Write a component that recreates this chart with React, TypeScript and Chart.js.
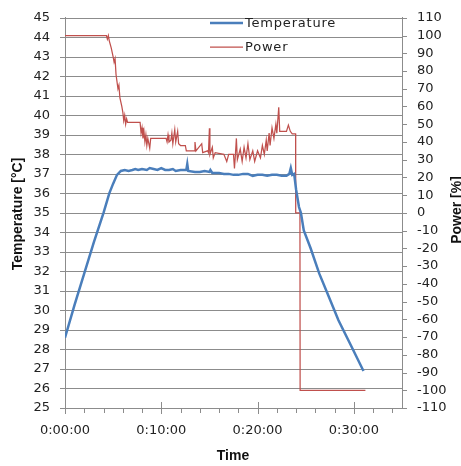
import React, { useEffect, useRef } from "react";
import { Chart, registerables } from "chart.js";

Chart.register(...registerables);

// Time in minutes
const tempTime = [
  0, 1, 2, 3, 4, 4.6, 5.0, 5.4, 5.8, 6.2, 6.6, 7.0, 7.3, 7.6, 8.0, 8.5, 8.8, 9.2, 9.6, 10.0,
  10.4, 10.8, 11.2, 11.5, 12.0, 12.6, 12.7, 12.8, 13.5, 14.0, 14.5, 15.0, 15.1, 15.3, 16.0,
  16.5, 17.0, 17.5, 18.0, 18.5, 19.0, 19.5, 20.0, 20.5, 21.0, 21.5, 22.0, 22.5, 23.0, 23.3,
  23.45, 23.6, 23.8, 24.0, 24.3, 24.5, 24.8, 25.5, 26.4, 27.4, 28.4, 29.7, 31.0,
];
const tempValue = [
  28.6, 30.3, 31.9, 33.5, 35.0, 36.0, 36.5, 36.95, 37.15, 37.2, 37.15, 37.2, 37.25, 37.2, 37.25, 37.2, 37.3, 37.25, 37.2, 37.3,
  37.2, 37.2, 37.25, 37.15, 37.2, 37.2, 37.5, 37.15, 37.1, 37.1, 37.15, 37.1, 37.2, 37.05, 37.05,
  37.0, 37.0, 36.95, 36.95, 37.0, 37.0, 36.9, 36.95, 36.95, 36.9, 36.95, 36.95, 36.9, 36.9, 37.0,
  37.3, 36.95, 37.0, 36.2, 35.3, 35.0, 34.1, 33.2, 31.9, 30.7, 29.5, 28.2, 26.9,
];

const powerTime = [
  0, 4.3, 4.4, 4.5, 4.6, 4.8, 5.0, 5.1, 5.2, 5.3, 5.5, 5.6, 5.7, 5.9, 6.0, 6.1, 6.2, 6.3, 6.4, 6.5,
  7.8, 7.9, 8.0, 8.1, 8.2, 8.3, 8.4, 8.5, 8.6, 8.8, 8.9, 9.0, 10.5, 10.6, 10.7, 10.8, 11.0, 11.1,
  11.2, 11.4, 11.5, 11.7, 11.8, 12.0, 12.5, 12.6, 13.4, 13.5, 13.6, 14.2, 14.3, 14.8, 14.9, 15.0,
  15.05, 15.3, 15.4, 15.6, 16.5, 16.8, 17.0, 17.5, 17.6, 17.7, 17.8, 17.9, 18.2, 18.4, 18.6, 18.8,
  19.0, 19.2, 19.5, 19.7, 20.0, 20.3, 20.5, 20.7, 20.9, 21.0, 21.2, 21.3, 21.5, 21.7, 21.9, 22.0,
  22.2, 22.3, 22.5, 23.0, 23.2, 23.4, 23.6, 23.95, 23.96, 24.4, 24.42, 31.2,
];
const powerValue = [
  100, 100, 98, 100, 97, 93, 88, 85, 87, 78, 70, 72, 65, 60, 57, 52, 55, 50, 53, 51,
  51, 45, 48, 42, 46, 40, 44, 38, 42, 36.5, 42, 42, 42, 40, 44, 40, 41, 45,
  39, 47, 40, 46, 39, 38, 38, 35, 35, 40, 35, 39, 34, 35, 34, 47.7,
  33, 37, 31, 34, 33, 29, 33, 33, 25, 33, 42, 30, 36, 29, 37, 31,
  39, 30, 35, 29, 35, 31, 38, 33, 41, 35, 45, 38, 48, 42, 50, 45,
  59.5, 46, 46, 46, 49.5, 46, 44.5, 44.5, 0, 0, -100, -100,
];

// Tick values
const tempTicks = [25, 26, 27, 28, 29, 30, 31, 32, 33, 34, 35, 36, 37, 38, 39, 40, 41, 42, 43, 44, 45];
const powerTicks = [-110, -100, -90, -80, -70, -60, -50, -40, -30, -20, -10, 0, 10, 20, 30, 40, 50, 60, 70, 80, 90, 100, 110];
const timeMinorTicks = [2, 4, 6, 8, 12, 14, 16, 18, 22, 24, 26, 28, 32, 34];
const timeMajorTicks = [0, 10, 20, 30];
const timeTickLabels = ["0:00:00", "0:10:00", "0:20:00", "0:30:00"];

const TICK_FONT = { family: "'DejaVu Sans', Verdana, sans-serif", size: 13 };
const TEXT_COLOR = "#222";
const GRID_COLOR = "#8c8c8c";
const HIDDEN = "rgba(0,0,0,0)";

export default function App() {
  const ref = useRef<HTMLCanvasElement | null>(null);

  useEffect(() => {
    if (!ref.current) return;
    const gridPlugin = {
      id: "gridLines",
      beforeDatasetsDraw(chart: any) {
        const ctx = chart.ctx;
        const area = chart.chartArea;
        const xs = chart.scales.x;
        const yl = chart.scales.y;
        const yr = chart.scales.y1;
        ctx.save();
        ctx.setLineDash([]);
        ctx.strokeStyle = GRID_COLOR;
        ctx.lineWidth = 1;
        const L = area.left;
        const R = area.right;
        const B = area.bottom;
        tempTicks.forEach((v) => {
          const py = Math.round(yl.getPixelForValue(v)) + 0.5;
          ctx.beginPath();
          ctx.moveTo(L - 5, py);
          ctx.lineTo(R, py);
          ctx.stroke();
        });
        powerTicks.forEach((v) => {
          const py = Math.round(yr.getPixelForValue(v)) + 0.5;
          ctx.beginPath();
          ctx.moveTo(R, py);
          ctx.lineTo(R + 5, py);
          ctx.stroke();
        });
        timeMinorTicks.forEach((v) => {
          const px = Math.round(xs.getPixelForValue(v)) + 0.5;
          ctx.beginPath();
          ctx.moveTo(px, B);
          ctx.lineTo(px, B + 5);
          ctx.stroke();
        });
        timeMajorTicks.forEach((v) => {
          const px = Math.round(xs.getPixelForValue(v)) + 0.5;
          ctx.beginPath();
          ctx.moveTo(px, B - 6);
          ctx.lineTo(px, B + 6);
          ctx.stroke();
        });
        ctx.restore();
      },
      afterDraw(chart: any) {
        const ctx = chart.ctx;
        ctx.save();
        // legend
        ctx.lineWidth = 2.5;
        ctx.strokeStyle = "#4a7ebb";
        ctx.beginPath();
        ctx.moveTo(210, 23);
        ctx.lineTo(243, 23);
        ctx.stroke();
        ctx.lineWidth = 1.25;
        ctx.strokeStyle = "#c0504d";
        ctx.beginPath();
        ctx.moveTo(210, 47);
        ctx.lineTo(243, 47);
        ctx.stroke();
        ctx.fillStyle = TEXT_COLOR;
        ctx.font = "13px 'DejaVu Sans', Verdana, sans-serif";
        (ctx as any).letterSpacing = "0.8px";
        ctx.textAlign = "left";
        ctx.textBaseline = "middle";
        ctx.fillText("Temperature", 245, 24);
        ctx.fillText("Power", 245, 48);
        (ctx as any).letterSpacing = "0px";
        // axis titles
        ctx.font = "bold 14px 'Liberation Sans', Arial, sans-serif";
        ctx.fillStyle = "#111";
        ctx.textAlign = "center";
        ctx.fillText("Time", 233, 456);
        ctx.save();
        ctx.translate(18, 214);
        ctx.rotate(-Math.PI / 2);
        ctx.fillText("Temperature [°C]", 0, 0);
        ctx.restore();
        ctx.save();
        ctx.translate(457, 210);
        ctx.rotate(-Math.PI / 2);
        ctx.fillText("Power [%]", 0, 0);
        ctx.restore();
        ctx.restore();
      },
    };

    const chart = new Chart(ref.current, {
      type: "line",
      data: {
        datasets: [
          {
            label: "Temperature",
            data: tempTime.map((t, i) => ({ x: t, y: tempValue[i] })),
            borderColor: "#4a7ebb",
            backgroundColor: "#4a7ebb",
            borderWidth: 2.5,
            pointRadius: 0,
            tension: 0,
            fill: false,
            yAxisID: "y",
          },
          {
            label: "Power",
            data: powerTime.map((t, i) => ({ x: t, y: powerValue[i] })),
            borderColor: "#c0504d",
            backgroundColor: "#c0504d",
            borderWidth: 1.25,
            pointRadius: 0,
            tension: 0,
            fill: false,
            yAxisID: "y1",
          },
        ],
      },
      options: {
        animation: false,
        responsive: true,
        maintainAspectRatio: false,
        layout: { padding: { top: 14.2, left: 0, right: 0, bottom: 0 } },
        plugins: { legend: { display: false }, tooltip: { enabled: false } },
        scales: {
          x: {
            type: "linear",
            min: 0,
            max: 35,
            afterFit: (s: any) => { s.height = 58; },
            ticks: {
              stepSize: 2,
              autoSkip: false,
              maxRotation: 0,
              includeBounds: false,
              padding: 10,
              font: TICK_FONT,
              color: TEXT_COLOR,
              callback: (v: any) => {
                const i = timeMajorTicks.indexOf(v as number);
                return i >= 0 ? timeTickLabels[i] : "";
              },
            },
            grid: { display: true, drawOnChartArea: false, drawTicks: true, tickLength: 5, color: HIDDEN },
            border: { display: true, color: GRID_COLOR, width: 1 },
          },
          y: {
            position: "left",
            min: 25,
            max: 45,
            afterFit: (s: any) => { s.width = 65; },
            ticks: { stepSize: 1, autoSkip: false, padding: 10, font: TICK_FONT, color: TEXT_COLOR },
            grid: { display: true, drawOnChartArea: false, tickLength: 5, drawTicks: true, color: HIDDEN },
            border: { display: true, color: GRID_COLOR, width: 1 },
          },
          y1: {
            position: "right",
            min: -110,
            max: 110,
            afterFit: (s: any) => { s.width = 59; },
            ticks: { stepSize: 10, autoSkip: false, padding: 10, font: TICK_FONT, color: TEXT_COLOR },
            grid: { display: true, drawOnChartArea: false, tickLength: 5, drawTicks: true, color: HIDDEN },
            border: { display: true, color: GRID_COLOR, width: 1 },
          },
        },
      },
      plugins: [gridPlugin],
    } as any);
    return () => chart.destroy();
  }, []);

  return (
    <div style={{ position: "absolute", left: 0, top: 0, width: 461, height: 466, background: "#fff" }}>
      <canvas ref={ref} />
    </div>
  );
}
